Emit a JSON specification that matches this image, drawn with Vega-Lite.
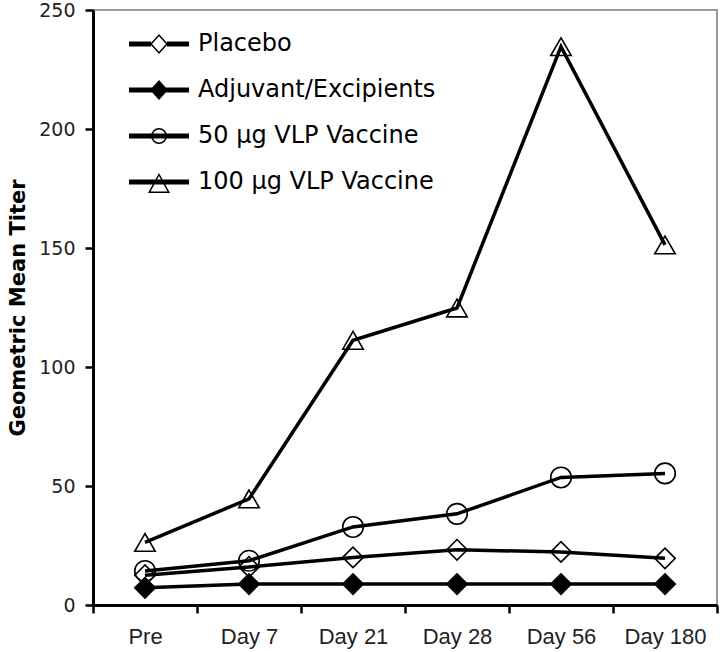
{
  "$schema": "https://vega.github.io/schema/vega-lite/v6.json",
  "autosize": "none",
  "padding": {"left": 93, "top": 10, "right": 3, "bottom": 47},
  "width": 624,
  "height": 595,
  "background": "white",
  "data": {
    "values": [
      {"Group": "Placebo", "Time": "Pre", "GMT": 12.5},
      {"Group": "Placebo", "Time": "Day 7", "GMT": 16},
      {"Group": "Placebo", "Time": "Day 21", "GMT": 20},
      {"Group": "Placebo", "Time": "Day 28", "GMT": 23.2},
      {"Group": "Placebo", "Time": "Day 56", "GMT": 22.3},
      {"Group": "Placebo", "Time": "Day 180", "GMT": 19.6},
      {"Group": "Adjuvant/Excipients", "Time": "Pre", "GMT": 7.2},
      {"Group": "Adjuvant/Excipients", "Time": "Day 7", "GMT": 8.8},
      {"Group": "Adjuvant/Excipients", "Time": "Day 21", "GMT": 8.8},
      {"Group": "Adjuvant/Excipients", "Time": "Day 28", "GMT": 8.8},
      {"Group": "Adjuvant/Excipients", "Time": "Day 56", "GMT": 8.8},
      {"Group": "Adjuvant/Excipients", "Time": "Day 180", "GMT": 8.8},
      {"Group": "50 µg VLP Vaccine", "Time": "Pre", "GMT": 14.3},
      {"Group": "50 µg VLP Vaccine", "Time": "Day 7", "GMT": 18.6},
      {"Group": "50 µg VLP Vaccine", "Time": "Day 21", "GMT": 32.8},
      {"Group": "50 µg VLP Vaccine", "Time": "Day 28", "GMT": 38.3},
      {"Group": "50 µg VLP Vaccine", "Time": "Day 56", "GMT": 53.6},
      {"Group": "50 µg VLP Vaccine", "Time": "Day 180", "GMT": 55.3},
      {"Group": "100 µg VLP Vaccine", "Time": "Pre", "GMT": 26.3},
      {"Group": "100 µg VLP Vaccine", "Time": "Day 7", "GMT": 44.6},
      {"Group": "100 µg VLP Vaccine", "Time": "Day 21", "GMT": 111.2},
      {"Group": "100 µg VLP Vaccine", "Time": "Day 28", "GMT": 124.8},
      {"Group": "100 µg VLP Vaccine", "Time": "Day 56", "GMT": 234.6},
      {"Group": "100 µg VLP Vaccine", "Time": "Day 180", "GMT": 151.3}
    ]
  },
  "encoding": {
    "x": {
      "field": "Time",
      "type": "nominal",
      "sort": ["Pre", "Day 7", "Day 21", "Day 28", "Day 56", "Day 180"],
      "scale": {"paddingInner": 0, "paddingOuter": 0},
      "axis": {
        "title": null,
        "tickBand": "extent",
        "labelAngle": 0,
        "labelFont": "Liberation Sans",
        "labelFontSize": 22,
        "labelColor": "#222",
        "labelPadding": 13,
        "tickSize": 8,
        "tickWidth": 2.5,
        "tickColor": "black",
        "domainColor": "black",
        "domainWidth": 3,
        "grid": false
      }
    },
    "y": {
      "field": "GMT",
      "type": "quantitative",
      "scale": {"domain": [0, 250], "nice": false},
      "axis": {
        "title": "Geometric Mean Titer",
        "values": [0, 50, 100, 150, 200, 250],
        "labelFont": "DejaVu Sans",
        "labelFontSize": 19,
        "labelColor": "#222",
        "labelPadding": 10,
        "tickSize": 8,
        "tickWidth": 2.5,
        "tickColor": "black",
        "domainColor": "black",
        "domainWidth": 3,
        "grid": false,
        "titleFont": "DejaVu Sans",
        "titleFontWeight": "bold",
        "titleFontSize": 21,
        "titleColor": "black",
        "titlePadding": 10
      }
    }
  },
  "layer": [
    {
      "mark": {"type": "line", "color": "black", "strokeWidth": 3.5},
      "encoding": {"detail": {"field": "Group", "type": "nominal"}}
    },
    {
      "mark": {"type": "point", "filled": false, "opacity": 1, "strokeWidth": 1.6, "color": "black"},
      "encoding": {
        "shape": {
          "field": "Group",
          "type": "nominal",
          "scale": {
            "domain": ["Placebo", "Adjuvant/Excipients", "50 µg VLP Vaccine", "100 µg VLP Vaccine"],
            "range": ["diamond", "diamond", "circle", "triangle-up"]
          },
          "legend": null
        },
        "size": {
          "field": "Group",
          "type": "nominal",
          "scale": {
            "domain": ["Placebo", "Adjuvant/Excipients", "50 µg VLP Vaccine", "100 µg VLP Vaccine"],
            "range": [420, 420, 320, 580]
          },
          "legend": null
        },
        "fill": {
          "condition": {"test": "datum.Group === 'Adjuvant/Excipients'", "value": "black"},
          "value": "transparent"
        }
      }
    },
    {
      "transform": [{"filter": "datum.GMT < 0"}],
      "mark": {"type": "point", "filled": true, "opacity": 1, "color": "black", "strokeWidth": 0},
      "encoding": {
        "shape": {
          "field": "Group",
          "type": "nominal",
          "scale": {
            "domain": ["Placebo", "Adjuvant/Excipients", "50 µg VLP Vaccine", "100 µg VLP Vaccine"],
            "range": [
              "M0,-1L0.9,0L0,1L-0.9,0ZM0,-0.78L-0.7,0L0,0.78L0.7,0ZM-3,-0.25L-0.8,-0.25L-0.8,0.25L-3,0.25ZM0.8,-0.25L3,-0.25L3,0.25L0.8,0.25Z",
              "M0,-1L0.9,0L0,1L-0.9,0ZM-3,-0.25L3,-0.25L3,0.25L-3,0.25Z",
              "M0.8,0L0.739,0.306L0.566,0.566L0.306,0.739L0,0.8L-0.306,0.739L-0.566,0.566L-0.739,0.306L-0.8,0L-0.739,-0.306L-0.566,-0.566L-0.306,-0.739L0,-0.8L0.306,-0.739L0.566,-0.566L0.739,-0.306ZM0.65,0L0.6,-0.249L0.46,-0.46L0.249,-0.6L0,-0.65L-0.249,-0.6L-0.46,-0.46L-0.6,-0.249L-0.65,0L-0.6,0.249L-0.46,0.46L-0.249,0.6L0,0.65L0.249,0.6L0.46,0.46L0.6,0.249ZM-3,-0.25L3,-0.25L3,0.25L-3,0.25Z",
              "M0,-0.9L1.1,1.1L-1.1,1.1ZM0,-0.588L-0.846,0.95L0.846,0.95ZM-3,-0.25L3,-0.25L3,0.25L-3,0.25Z"
            ]
          },
          "legend": {
            "orient": "none",
            "legendX": 54,
            "legendY": 22,
            "title": null,
            "labelFont": "DejaVu Sans",
            "labelFontSize": 24,
            "labelColor": "black",
            "labelLimit": 500,
            "labelOffset": 27,
            "symbolSize": 400,
            "symbolFillColor": "black",
            "symbolStrokeWidth": 0,
            "symbolOpacity": 1,
            "rowPadding": 22,
            "padding": 0
          }
        }
      }
    }
  ],
  "resolve": {"scale": {"shape": "independent"}, "legend": {"shape": "independent"}},
  "config": {
    "view": {"stroke": "#999", "strokeWidth": 2},
    "axis": {"labelFontWeight": "normal"}
  }
}
